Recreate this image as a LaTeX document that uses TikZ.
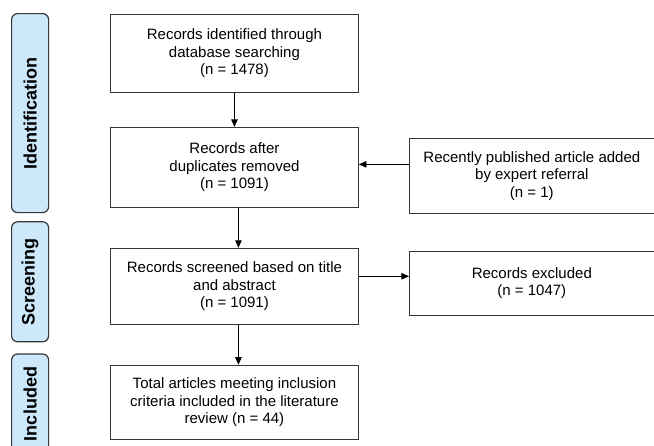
\documentclass[tikz,border=0pt]{standalone}
\usepackage{fontspec}
\setmainfont{Liberation Sans}
\usetikzlibrary{arrows.meta,positioning}
\definecolor{stagefill}{RGB}{204,232,250}
\definecolor{boxline}{RGB}{55,55,55}
\tikzset
{
    recbox/.style  = {draw=boxline, line width=0.9pt, align=center, minimum width=248pt, inner sep=2pt, font=\fontsize{15}{17.5}\selectfont},
    sidebox/.style = {recbox, minimum width=245pt},
    stage/.style   = {draw=boxline, fill=stagefill, line width=1.2pt, rounded corners=6pt, minimum width=37pt, inner sep=0pt, font=\fontsize{18}{20}\selectfont\bfseries}
}
\begin{document}
\begin{tikzpicture}[->, >={Triangle[length=7.5pt,width=6.5pt]}, line width=0.7pt]
    \useasboundingbox (0,0) rectangle (654pt,-445pt);
    % stages
    \node [stage, minimum height=199pt, anchor=north west] (stident) at (11pt,-13pt) {\rotatebox{90}{Identification}};
    \node [stage, minimum height=120pt, below=8pt of stident] (stscreen) {\rotatebox{90}{Screening}};
    \node [stage, minimum height=100pt, below=11pt of stscreen] (stincl) {\rotatebox{90}{Included}};
    % main column
    \node [recbox, minimum height=78pt, anchor=north west] (ident) at (110pt,-14pt) {Records identified through\\database searching\\(n = 1478)};
    \node [recbox, minimum height=80pt, below=34pt of ident] (dedup) {Records after\\duplicates removed\\(n = 1091)};
    \node [recbox, minimum height=76pt, below=40pt of dedup] (screen) {Records screened based on title\\and abstract\\(n = 1091)};
    \node [recbox, minimum height=74pt, below=40pt of screen] (incl) {Total articles meeting inclusion\\criteria included in the literature\\review (n = 44)};
    % side boxes
    \node [sidebox, minimum height=75pt, right=50pt of dedup, yshift=-8.5pt] (expert) {Recently published article added\\by expert referral\\(n = 1)};
    \node [sidebox, minimum height=64pt, right=50pt of screen, yshift=3pt] (excl) {Records excluded\\(n = 1047)};
    % arrows
    \draw (ident) -- (dedup);
    \draw ([xshift=4pt]dedup.south) -- ([xshift=4pt]screen.north);
    \draw ([xshift=4pt]screen.south) -- ([xshift=4pt]incl.north);
    \draw ([yshift=11.5pt]expert.west) -- ([yshift=11.5pt]expert.west -| dedup.east);
    \draw ([yshift=10pt]screen.east) -- ([yshift=10pt]screen.east -| excl.west);
\end{tikzpicture}
\end{document}
